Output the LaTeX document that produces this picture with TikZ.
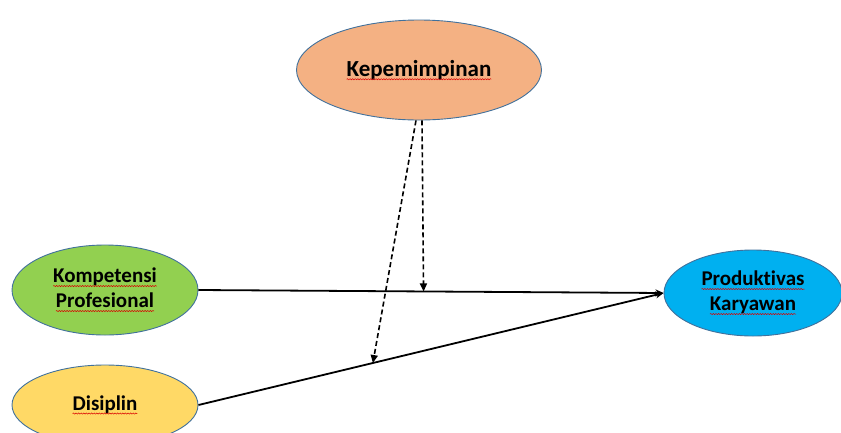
\documentclass[tikz,border=0pt]{standalone}
\usepackage{fontspec}
\setmainfont{Carlito}[Ligatures=NoCommon]
\usetikzlibrary{arrows.meta,calc,decorations.pathmorphing,shapes.geometric}
\definecolor{edgeblue}{HTML}{41719C}
\definecolor{kepfill}{HTML}{F4B183}
\definecolor{kompfill}{HTML}{92D050}
\definecolor{prodfill}{HTML}{00B0F0}
\definecolor{disfill}{HTML}{FFD966}
\newcommand{\redsq}[1]{\tikz[baseline=(w.base)]{\node[shape=rectangle,minimum width=0pt,minimum height=0pt,inner sep=0pt,outer sep=0pt,draw=none,fill=none](w){#1};\draw[red!85!black,line width=0.5pt,decorate,decoration={snake,amplitude=0.6pt,segment length=2.6pt}]([yshift=-3.2pt]w.base west)--([yshift=-3.2pt]w.base east);}}
\begin{document}
\begin{tikzpicture}[x=1pt,y=-1pt,
  oval/.style={ellipse,draw=edgeblue,line width=0.9pt,inner sep=0pt,align=center,font=\bfseries\fontsize{21}{25}\selectfont},
  solidarrow/.style={line width=1.8pt,-{Stealth[length=8pt,width=7pt]}},
  dasharrow/.style={line width=1.6pt,dash pattern=on 5pt off 3pt,-{Triangle[length=8pt,width=7pt]}}]
\useasboundingbox (0,0) rectangle (841,432);
\begin{scope}
\clip (0,0) rectangle (841,432);
\node[oval,fill=kepfill,minimum width=245pt,minimum height=100pt,font=\bfseries\fontsize{23}{27}\selectfont] (kep) at (419,70) {\redsq{Kepemimpinan}};
\node[oval,fill=kompfill,minimum width=186pt,minimum height=90pt] (komp) at (105,290) {\redsq{Kompetensi}\\\redsq{Profesional}};
\node[oval,fill=prodfill,minimum width=178pt,minimum height=86pt] (prod) at (753,293) {\redsq{Produktivas}\\\redsq{Karyawan}};
\node[oval,fill=disfill,minimum width=186pt,minimum height=80pt] (dis) at (105,405) {\redsq{Disiplin}};
\end{scope}
\draw[solidarrow] (komp.east) -- (prod.west);
\draw[solidarrow] (dis.east) -- (prod.west);
\coordinate (m1) at ($(komp.east)!0.484!(prod.west)$);
\coordinate (m2) at ($(dis.east)!0.375!(prod.west)$);
\coordinate (s1) at ($(kep.south)+(3,0)$);
\coordinate (s2) at ($(kep.south)+(-3,0)$);
\draw[dasharrow] (s1) -- (m1);
\draw[dasharrow] (s2) -- (m2);
\end{tikzpicture}
\end{document}
